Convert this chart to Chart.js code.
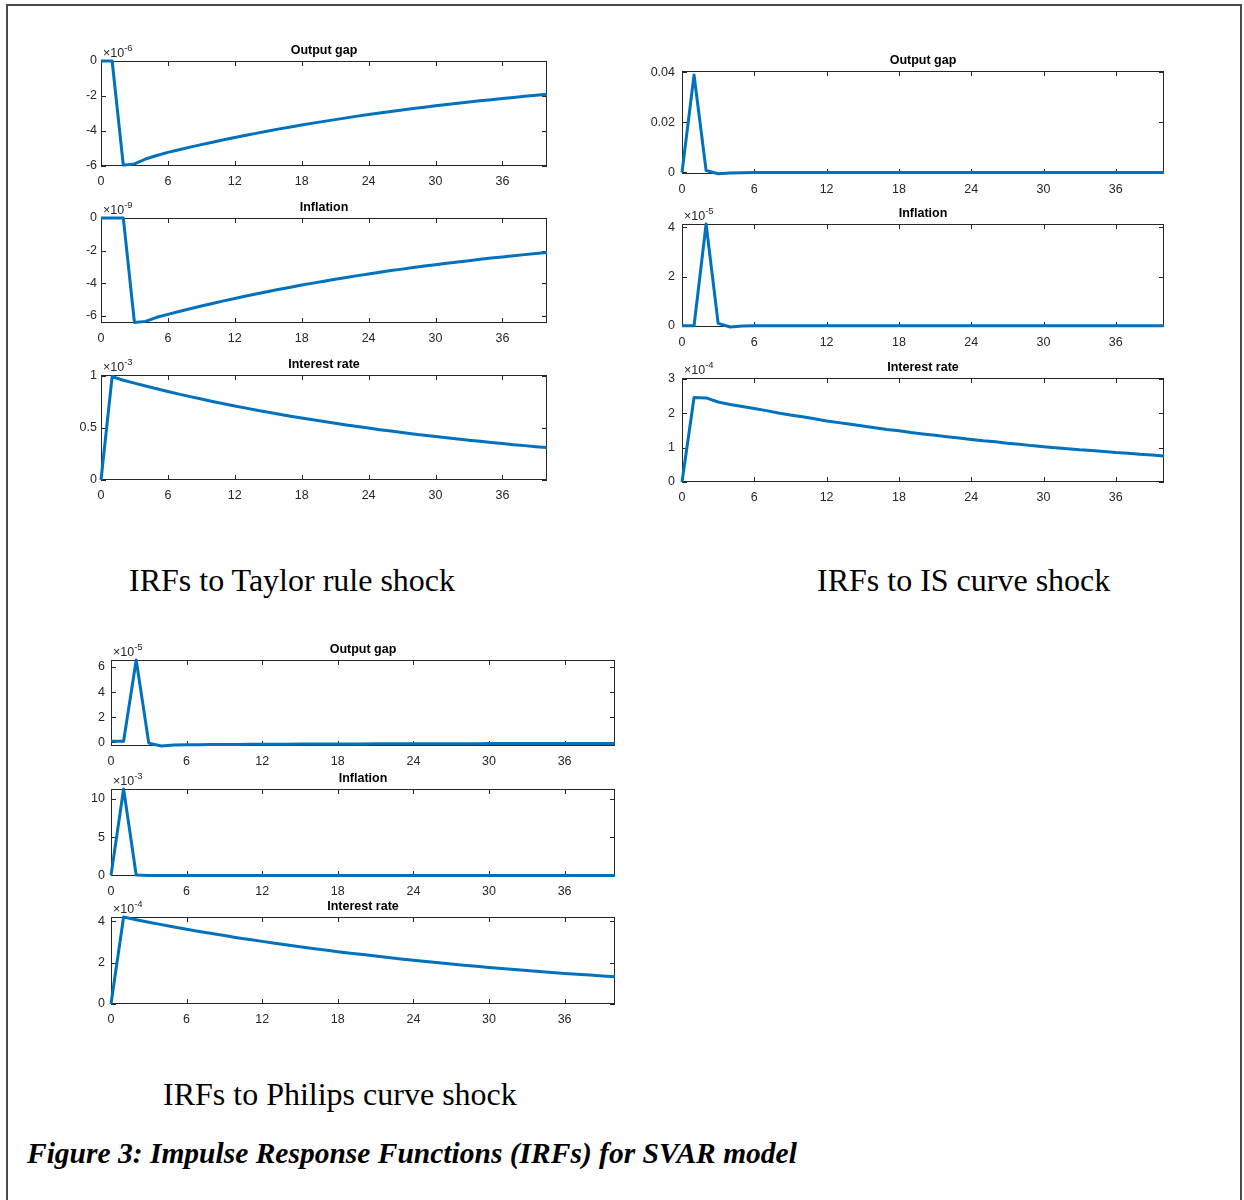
<!DOCTYPE html>
<html>
<head>
<meta charset="utf-8">
<script src="https://cdn.jsdelivr.net/npm/chart.js@4.4.1/dist/chart.umd.min.js"></script>
<style>
  html, body { margin: 0; padding: 0; background: #ffffff; }
  body { width: 1244px; height: 1200px; position: relative; overflow: hidden; }
  #frame { position: absolute; left: 6px; top: 4px; width: 1236px; height: 1300px; border: 2px solid #4a4a4a; box-sizing: border-box; }
  .panel { position: absolute; }
  .cap { position: absolute; font-family: "Times New Roman", "Liberation Serif", serif; color: #000; white-space: nowrap; }
</style>
</head>
<body>
<div id="frame"></div>
<div class="cap" style="left:129px; top:564px; font-size:32px; line-height:32px;">IRFs to Taylor rule shock</div>
<div class="cap" style="left:817px; top:564px; font-size:32px; line-height:32px;">IRFs to IS curve shock</div>
<div class="cap" style="left:163px; top:1078px; font-size:32px; line-height:32px;">IRFs to Philips curve shock</div>
<div class="cap" style="left:27px; top:1139px; font-size:29.5px; line-height:29px; font-weight:bold; font-style:italic;">Figure 3: Impulse Response Functions (IRFs) for SVAR model</div>
<script>
// ---------------- DATA ----------------
const xSteps = [0,1,2,3,4,5,6,7,8,9,10,11,12,13,14,15,16,17,18,19,20,21,22,23,24,25,26,27,28,29,30,31,32,33,34,35,36,37,38,39,40];
const xTicks = [0,6,12,18,24,30,36];

const panelTitles = ["Output gap","Inflation","Interest rate"];
const shockCaptions = ["IRFs to Taylor rule shock","IRFs to IS curve shock","IRFs to Philips curve shock"];

// Taylor rule shock (values shown in units of the exponent label)
const taylorOutput = [0,0,-5.95,-5.88,-5.6,-5.4,-5.22,-5.07,-4.92,-4.78,-4.64,-4.50,-4.37,-4.24,-4.12,-4.00,-3.88,-3.77,-3.66,-3.55,-3.45,-3.35,-3.25,-3.15,-3.06,-2.97,-2.88,-2.80,-2.72,-2.64,-2.56,-2.49,-2.41,-2.34,-2.27,-2.21,-2.14,-2.08,-2.02,-1.96,-1.90];
const taylorInflation = [0,0,0,-6.42,-6.35,-6.1,-5.92,-5.74,-5.57,-5.41,-5.25,-5.09,-4.94,-4.79,-4.65,-4.51,-4.38,-4.25,-4.12,-4.00,-3.88,-3.76,-3.65,-3.54,-3.44,-3.33,-3.23,-3.14,-3.04,-2.95,-2.87,-2.78,-2.70,-2.62,-2.54,-2.46,-2.39,-2.32,-2.25,-2.18,-2.12];
const taylorInterest = [0,0.990,0.955,0.927,0.899,0.873,0.847,0.822,0.798,0.775,0.752,0.730,0.709,0.688,0.668,0.648,0.629,0.611,0.593,0.576,0.559,0.543,0.527,0.512,0.497,0.482,0.468,0.455,0.441,0.429,0.416,0.404,0.392,0.381,0.370,0.359,0.349,0.338,0.329,0.319,0.310];

// IS curve shock
const isOutput = [0,0.0389,0.0008,-0.0005,-0.0002,-0.0001,0,0,0,0,0,0,0,0,0,0,0,0,0,0,0,0,0,0,0,0,0,0,0,0,0,0,0,0,0,0,0,0,0,0,0];
const isInflation = [0,0,4.14,0.10,-0.05,-0.01,0,0,0,0,0,0,0,0,0,0,0,0,0,0,0,0,0,0,0,0,0,0,0,0,0,0,0,0,0,0,0,0,0,0,0];
const isInterest = [0,2.46,2.45,2.33,2.26,2.20,2.14,2.08,2.01,1.95,1.90,1.84,1.78,1.73,1.68,1.63,1.58,1.53,1.49,1.44,1.40,1.36,1.32,1.28,1.24,1.20,1.17,1.13,1.10,1.06,1.03,1.00,0.97,0.94,0.92,0.89,0.86,0.84,0.81,0.79,0.76];

// Philips curve shock
const philipsOutput = [0.1,0.1,6.55,-0.05,-0.28,-0.21,-0.19,-0.18,-0.17,-0.16,-0.16,-0.15,-0.15,-0.14,-0.14,-0.13,-0.13,-0.13,-0.12,-0.12,-0.12,-0.11,-0.11,-0.11,-0.11,-0.10,-0.10,-0.10,-0.10,-0.10,-0.09,-0.09,-0.09,-0.09,-0.09,-0.09,-0.08,-0.08,-0.08,-0.08,-0.08];
const philipsInflation = [0,11.3,0.05,0,0,0,0,0,0,0,0,0,0,0,0,0,0,0,0,0,0,0,0,0,0,0,0,0,0,0,0,0,0,0,0,0,0,0,0,0,0];
const philipsInterest = [0,4.21,4.08,3.96,3.84,3.73,3.62,3.51,3.41,3.31,3.21,3.12,3.03,2.94,2.85,2.77,2.69,2.61,2.53,2.46,2.39,2.32,2.25,2.18,2.12,2.06,2.00,1.94,1.88,1.83,1.77,1.72,1.67,1.62,1.57,1.53,1.48,1.44,1.40,1.36,1.32];

// exponent labels and y tick labels
const taylorExp = ["-6","-9","-3"];
const isExp = [null,"-5","-4"];
const philipsExp = ["-5","-3","-4"];
const yTicksTaylorOutput = [-6,-4,-2,0];
const yTicksTaylorInflation = [-6,-4,-2,0];
const yTicksTaylorInterest = [0,0.5,1];
const yTicksIsOutput = [0,0.02,0.04];
const yTicksIsInflation = [0,2,4];
const yTicksIsInterest = [0,1,2,3];
const yTicksPhilipsOutput = [0,2,4,6];
const yTicksPhilipsInflation = [0,5,10];
const yTicksPhilipsInterest = [0,2,4];

// ---------------- LAYOUT ----------------
const panels = [
  {L:101,T:61, R:547, B:166, ymin:-6,     ymax:0,      data:taylorOutput,    ticks:yTicksTaylorOutput,    title:panelTitles[0], exp:taylorExp[0], pad:4},
  {L:101,T:218,R:547, B:323, ymin:-6.45,  ymax:0,      data:taylorInflation, ticks:yTicksTaylorInflation, title:panelTitles[1], exp:taylorExp[1], pad:4},
  {L:101,T:375,R:547, B:480, ymin:0,      ymax:1.005,  data:taylorInterest,  ticks:yTicksTaylorInterest,  title:panelTitles[2], exp:taylorExp[2], pad:4},
  {L:682,T:71, R:1164,B:174, ymin:-0.0006,ymax:0.0405, data:isOutput,        ticks:yTicksIsOutput,        title:panelTitles[0], exp:isExp[0],     pad:7},
  {L:682,T:224,R:1164,B:327, ymin:-0.05,  ymax:4.14,   data:isInflation,     ticks:yTicksIsInflation,     title:panelTitles[1], exp:isExp[1],     pad:7},
  {L:682,T:378,R:1164,B:482, ymin:0,      ymax:3.03,   data:isInterest,      ticks:yTicksIsInterest,      title:panelTitles[2], exp:isExp[2],     pad:7},
  {L:111,T:660,R:615, B:746, ymin:-0.28,  ymax:6.55,   data:philipsOutput,   ticks:yTicksPhilipsOutput,   title:panelTitles[0], exp:philipsExp[0],pad:6},
  {L:111,T:789,R:615, B:876, ymin:-0.08,  ymax:11.3,   data:philipsInflation,ticks:yTicksPhilipsInflation,title:panelTitles[1], exp:philipsExp[1],pad:6},
  {L:111,T:917,R:615, B:1004,ymin:0,      ymax:4.21,   data:philipsInterest, ticks:yTicksPhilipsInterest, title:panelTitles[2], exp:philipsExp[2],pad:6}
];

const PADL = 50, PADT = 30, PADR = 14, PADB = 26;
const TXT = '#262626';
const FONT = '"Liberation Sans", Arial, Helvetica, sans-serif';

const matlabBox = {
  id: 'matlabBox',
  beforeDatasetsDraw(chart, args, opts) {
    const ctx = chart.ctx, a = chart.chartArea, x = chart.scales.x, y = chart.scales.y;
    const TL = 5;
    ctx.save();
    ctx.strokeStyle = TXT; ctx.lineWidth = 1;
    ctx.strokeRect(a.left + 0.5, a.top + 0.5, a.right - a.left - 1, a.bottom - a.top - 1);
    ctx.beginPath();
    x.ticks.forEach(t => {
      const px = Math.round(x.getPixelForValue(t.value)) + 0.5;
      ctx.moveTo(px, a.bottom); ctx.lineTo(px, a.bottom - TL);
      ctx.moveTo(px, a.top); ctx.lineTo(px, a.top + TL);
    });
    y.ticks.forEach(t => {
      const py = Math.round(y.getPixelForValue(t.value)) + 0.5;
      ctx.moveTo(a.left, py); ctx.lineTo(a.left + TL, py);
      ctx.moveTo(a.right, py); ctx.lineTo(a.right - TL, py);
    });
    ctx.stroke();
    ctx.restore();
  },
  afterDraw(chart, args, opts) {
    const ctx = chart.ctx, a = chart.chartArea;
    ctx.save();
    ctx.fillStyle = '#000';
    ctx.font = 'bold 12.5px ' + FONT;
    ctx.textAlign = 'center'; ctx.textBaseline = 'alphabetic';
    ctx.fillText(opts.title, (a.left + a.right) / 2, a.top - 7);
    if (opts.exp) {
      ctx.fillStyle = TXT;
      ctx.textAlign = 'left';
      ctx.font = '12.5px ' + FONT;
      const base = '\u00d710';
      ctx.fillText(base, a.left + 2, a.top - 4);
      const w = ctx.measureText(base).width;
      ctx.font = '9.5px ' + FONT;
      ctx.fillText(opts.exp, a.left + 2 + w, a.top - 10);
    }
    ctx.restore();
  }
};

panels.forEach(p => {
  const w = (p.R - p.L) + PADL + PADR;
  const h = (p.B - p.T) + PADT + PADB;
  const div = document.createElement('div');
  div.className = 'panel';
  div.style.left = (p.L - PADL) + 'px';
  div.style.top = (p.T - PADT) + 'px';
  div.style.width = w + 'px';
  div.style.height = h + 'px';
  const cv = document.createElement('canvas');
  cv.width = w; cv.height = h;
  cv.style.width = w + 'px'; cv.style.height = h + 'px';
  div.appendChild(cv);
  document.body.appendChild(div);

  new Chart(cv, {
    type: 'line',
    data: {
      datasets: [{
        data: xSteps.map((s, i) => ({x: s, y: p.data[i]})),
        borderColor: '#0072BD',
        borderWidth: 3,
        pointRadius: 0,
        tension: 0,
        fill: false,
        clip: false,
        borderJoinStyle: 'round',
        borderCapStyle: 'butt'
      }]
    },
    options: {
      responsive: false,
      animation: false,
      devicePixelRatio: 1,
      layout: { padding: { left: 0, top: PADT, right: PADR, bottom: 0 } },
      plugins: {
        legend: { display: false },
        tooltip: { enabled: false },
        title: { display: false },
        matlabBox: { title: p.title, exp: p.exp }
      },
      scales: {
        x: {
          type: 'linear', min: 0, max: 40,
          grid: { display: false, drawTicks: false },
          border: { display: false },
          afterBuildTicks: s => { s.ticks = xTicks.map(v => ({value: v})); },
          afterFit: s => { s.height = PADB; },
          ticks: { padding: 8, color: TXT, font: { family: FONT, size: 12.5 }, maxRotation: 0, autoSkip: false,
                   callback: v => String(v) }
        },
        y: {
          type: 'linear', min: p.ymin, max: p.ymax,
          grid: { display: false, drawTicks: false },
          border: { display: false },
          afterBuildTicks: s => { s.ticks = p.ticks.map(v => ({value: v})); },
          afterFit: s => { s.width = PADL; },
          ticks: { padding: p.pad, color: TXT, font: { family: FONT, size: 12.5 }, autoSkip: false,
                   callback: v => String(v) }
        }
      }
    },
    plugins: [matlabBox]
  });
});
</script>
</body>
</html>
